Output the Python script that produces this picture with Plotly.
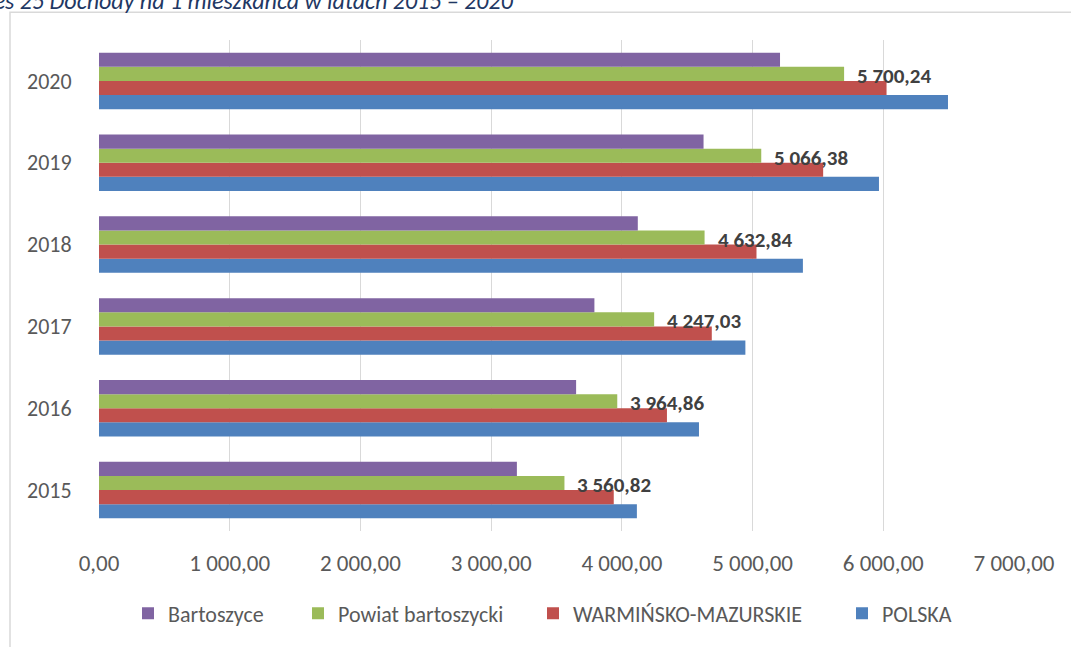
import plotly.graph_objects as go

# Income per inhabitant (PLN), 2015-2020
years = ["2015", "2016", "2017", "2018", "2019", "2020"]
polska = [4115, 4590, 4945, 5385, 5967, 6495]
warminsko_mazurskie = [3938, 4345, 4688, 5030, 5540, 6025]
powiat_bartoszycki = [3560.82, 3964.86, 4247.03, 4632.84, 5066.38, 5700.24]
bartoszyce = [3197, 3650, 3790, 4122, 4625, 5210]

series = [
    ("POLSKA", polska, "#4F81BD", "legend4"),
    ("WARMIŃSKO-MAZURSKIE", warminsko_mazurskie, "#C0504D", "legend3"),
    ("Powiat bartoszycki", powiat_bartoszycki, "#9BBB59", "legend2"),
    ("Bartoszyce", bartoszyce, "#8064A2", "legend"),
]

FONT = "Calibri, Carlito, Lato, sans-serif"
W, H = 1071, 647
L, R, T, B = 99, 57, 40, 113
PW, PH = W - L - R, H - T - B


def px_x(px):
    return (px - L) / PW


def px_y(py):
    return (H - B - py) / PH


fig = go.Figure()
for name, vals, color, leg in series:
    fig.add_trace(go.Bar(
        y=years, x=vals, name=name, orientation="h",
        marker=dict(color=color, line=dict(width=0)),
        legend=leg, hoverinfo="skip",
    ))


def pl(v):
    return f"{v:,.2f}".replace(",", " ").replace(".", ",")


# value labels for the county series; y given as category index
annotations = [
    dict(x=v, y=i, xref="x", yref="y", text=pl(v), showarrow=False,
         xanchor="left", yanchor="middle", xshift=11, yshift=5,
         font=dict(family=FONT, size=21, color="#404040", weight="bold"))
    for i, v in enumerate(powiat_bartoszycki)
]
annotations.append(dict(
    x=px_x(516), y=px_y(17), xref="paper", yref="paper",
    text="Wykres 25 Dochody na 1 mieszkańca w latach 2015 – 2020",
    showarrow=False, xanchor="right", yanchor="bottom",
    font=dict(family=FONT, size=24, color="#1F3864", style="italic"),
))

legend_lefts = {"legend": 148, "legend2": 318, "legend3": 553, "legend4": 862}
legend_kw = {}
for key, left in legend_lefts.items():
    legend_kw[key] = dict(
        x=px_x(left - 20), y=px_y(617), xanchor="left", yanchor="middle",
        orientation="h", bgcolor="rgba(0,0,0,0)", borderwidth=0,
        font=dict(family=FONT, size=22, color="#595959"),
        itemclick=False, itemdoubleclick=False,
    )

fig.update_layout(
    width=W, height=H,
    margin=dict(l=L, r=R, t=T, b=B, pad=0),
    paper_bgcolor="white", plot_bgcolor="white",
    barmode="group", bargap=0.31, bargroupgap=0,
    separators=", ",
    showlegend=True,
    annotations=annotations,
    font=dict(family=FONT, color="#595959"),
    xaxis=dict(
        range=[0, 7000], tickvals=[0, 1000, 2000, 3000, 4000, 5000, 6000, 7000],
        tickformat=",.2f", showgrid=True, gridcolor="#D9D9D9", gridwidth=1,
        zeroline=False, showline=False, ticks="outside", ticklen=11,
        tickcolor="rgba(0,0,0,0)", tickfont=dict(family=FONT, size=23, color="#595959"),
        fixedrange=True,
    ),
    yaxis=dict(
        type="category", categoryorder="array", categoryarray=years,
        range=[-0.5, len(years) - 0.5],
        showgrid=False, zeroline=False, showline=False, ticks="outside",
        ticklen=22, tickcolor="rgba(0,0,0,0)",
        tickfont=dict(family=FONT, size=22, color="#595959"), fixedrange=True,
    ),
    shapes=[dict(
        type="rect", xref="paper", yref="paper",
        x0=px_x(10), x1=px_x(1090), y0=px_y(670), y1=px_y(12),
        line=dict(color="#D9D9D9", width=1.5), fillcolor="rgba(0,0,0,0)",
        layer="below",
    )],
    **legend_kw,
)

fig.write_html("out.html", config={"displayModeBar": False})
